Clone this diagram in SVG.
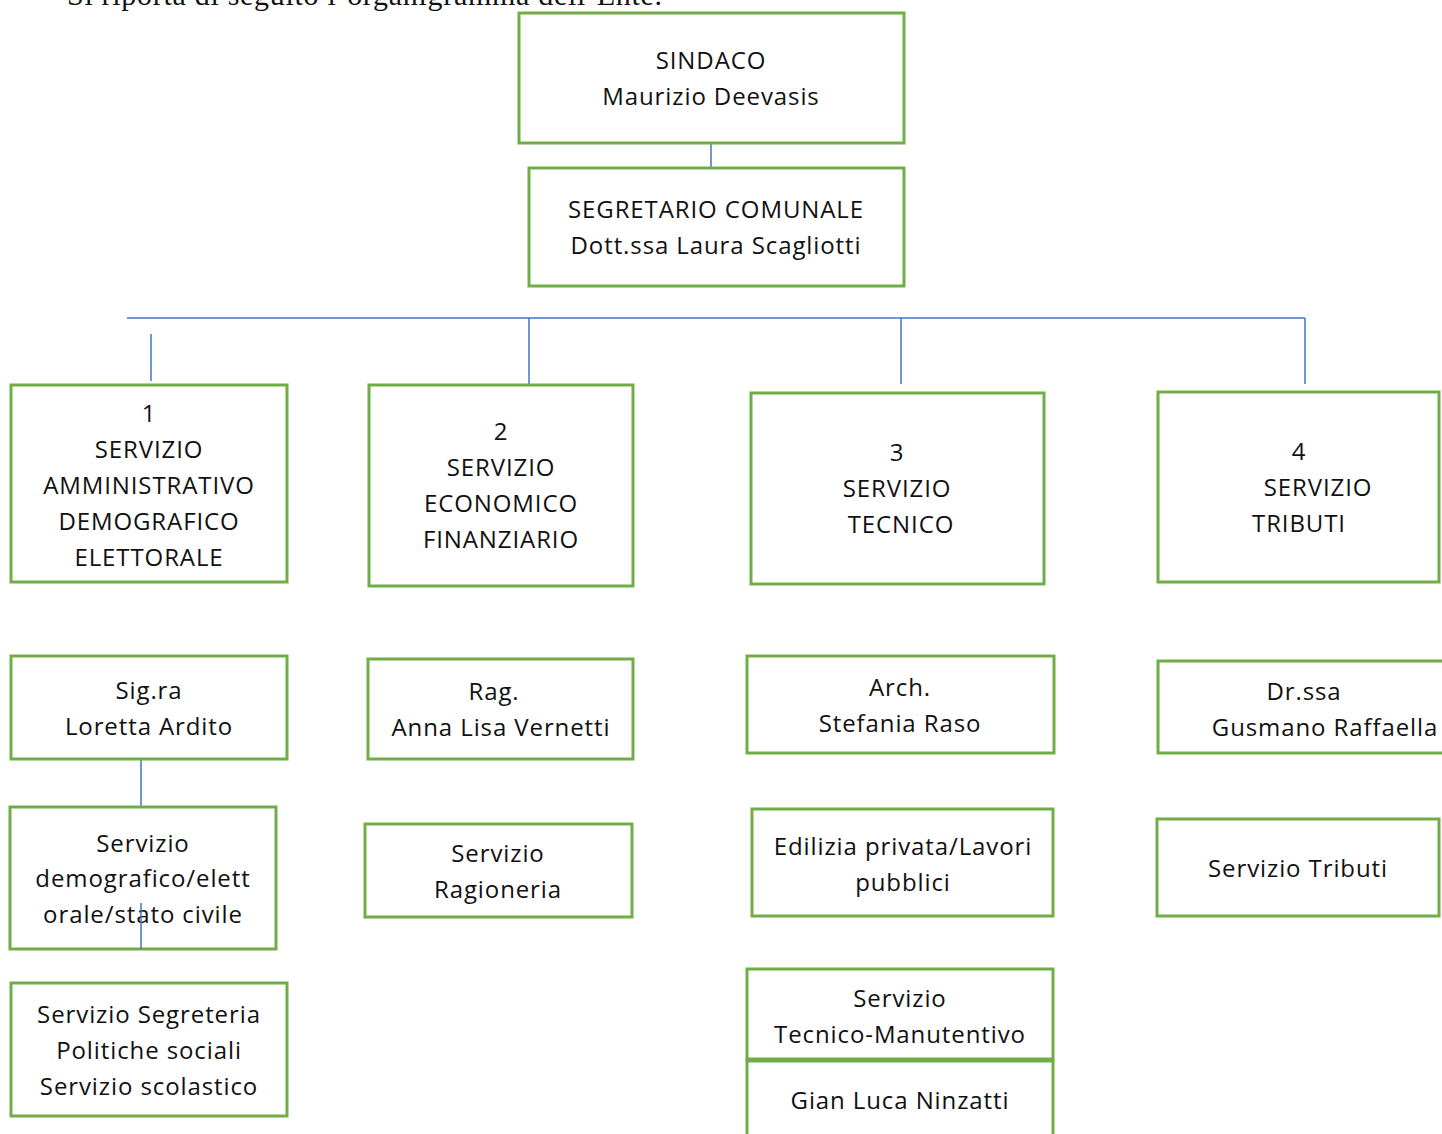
<svg xmlns="http://www.w3.org/2000/svg" width="1442" height="1134" viewBox="0 0 1442 1134">
<style>
.box{fill:#fff;stroke:#70AD47;stroke-width:3}
.t{font-family:"Open Sans","Noto Sans",sans-serif;font-size:24px;letter-spacing:0.9px;fill:#111;text-anchor:middle}
.c{stroke:#4472C4;stroke-width:1.5;fill:none}
.intro{font-family:"Liberation Serif",serif;font-size:30px;fill:#111}
</style>
<rect width="1442" height="1134" fill="#fff"/>
<text class="intro" x="67" y="5" textLength="595" lengthAdjust="spacing">Si riporta di seguito l’organigramma dell’Ente.</text>
<g id="connectors">
<line class="c" x1="711" y1="143" x2="711" y2="168"/>
<line class="c" x1="127" y1="318" x2="1305" y2="318"/>
<line class="c" x1="529" y1="318" x2="529" y2="384"/>
<line class="c" x1="901" y1="318" x2="901" y2="384"/>
<line class="c" x1="1305" y1="318" x2="1305" y2="384"/>
<line class="c" x1="151" y1="334" x2="151" y2="381"/>
<line class="c" x1="141" y1="759" x2="141" y2="807"/>
</g>
<g id="sindaco"><rect class="box" x="519" y="13" width="385" height="130"/>
<text class="t" x="711" y="69">SINDACO</text><text class="t" x="711" y="105">Maurizio Deevasis</text></g>
<g id="segretario"><rect class="box" x="529" y="168" width="375" height="118"/>
<text class="t" x="716" y="218">SEGRETARIO COMUNALE</text><text class="t" x="716" y="254">Dott.ssa Laura Scagliotti</text></g>
<g id="servizio1"><rect class="box" x="11" y="385" width="276" height="197"/>
<text class="t" x="149" y="422">1</text><text class="t" x="149" y="458">SERVIZIO</text><text class="t" x="149" y="494">AMMINISTRATIVO</text><text class="t" x="149" y="530">DEMOGRAFICO</text><text class="t" x="149" y="566">ELETTORALE</text></g>
<g id="servizio2"><rect class="box" x="369" y="385" width="264" height="201"/>
<text class="t" x="501" y="440">2</text><text class="t" x="501" y="476">SERVIZIO</text><text class="t" x="501" y="512">ECONOMICO</text><text class="t" x="501" y="548">FINANZIARIO</text></g>
<g id="servizio3"><rect class="box" x="751" y="393" width="293" height="191"/>
<text class="t" x="897" y="461">3</text><text class="t" x="897" y="497">SERVIZIO</text><text class="t" x="901" y="533">TECNICO</text></g>
<g id="servizio4"><rect class="box" x="1158" y="392" width="281" height="190"/>
<text class="t" x="1299" y="460">4</text><text class="t" x="1318" y="496">SERVIZIO</text><text class="t" x="1299" y="532">TRIBUTI</text></g>
<g id="ardito"><rect class="box" x="11" y="656" width="276" height="103"/>
<text class="t" x="149" y="699">Sig.ra</text><text class="t" x="149" y="735">Loretta Ardito</text></g>
<g id="demografico"><rect class="box" x="10" y="807" width="266" height="142"/>
<text class="t" x="143" y="852">Servizio</text><text class="t" x="143" y="887">demografico/elett</text><text class="t" x="143" y="923">orale/stato civile</text>
<line class="c" x1="141" y1="903" x2="141" y2="949"/></g>
<g id="segreteria"><rect class="box" x="11" y="983" width="276" height="133"/>
<text class="t" x="149" y="1023">Servizio Segreteria</text><text class="t" x="149" y="1059">Politiche sociali</text><text class="t" x="149" y="1095">Servizio scolastico</text></g>
<g id="vernetti"><rect class="box" x="368" y="659" width="265" height="100"/>
<text class="t" x="494" y="700">Rag.</text><text class="t" x="501" y="736">Anna Lisa Vernetti</text></g>
<g id="ragioneria"><rect class="box" x="365" y="824" width="267" height="93"/>
<text class="t" x="498" y="862">Servizio</text><text class="t" x="498" y="898">Ragioneria</text></g>
<g id="raso"><rect class="box" x="747" y="656" width="307" height="97"/>
<text class="t" x="900" y="696">Arch.</text><text class="t" x="900" y="732">Stefania Raso</text></g>
<g id="edilizia"><rect class="box" x="752" y="809" width="301" height="107"/>
<text class="t" x="903" y="855">Edilizia privata/Lavori</text><text class="t" x="903" y="891">pubblici</text></g>
<g id="manutentivo"><rect class="box" x="747" y="969" width="306" height="90"/>
<text class="t" x="900" y="1007">Servizio</text><text class="t" x="900" y="1043">Tecnico-Manutentivo</text></g>
<g id="ninzatti"><rect class="box" x="747" y="1061" width="306" height="90"/>
<text class="t" x="900" y="1109">Gian Luca Ninzatti</text></g>
<g id="gusmano"><rect class="box" x="1158" y="661" width="300" height="92"/>
<text class="t" x="1304" y="700">Dr.ssa</text><text class="t" x="1325" y="736">Gusmano Raffaella</text></g>
<g id="tributi"><rect class="box" x="1157" y="819" width="282" height="97"/>
<text class="t" x="1298" y="877">Servizio Tributi</text></g>
</svg>
